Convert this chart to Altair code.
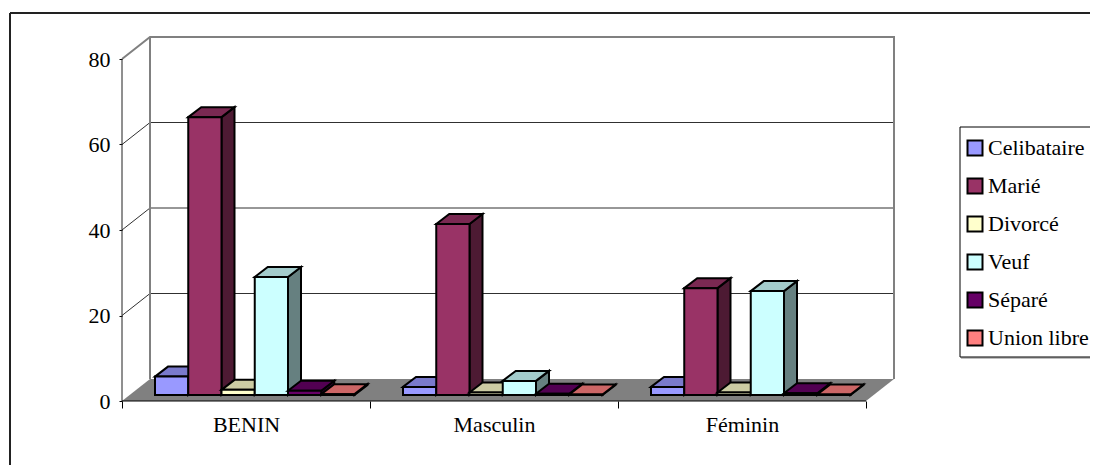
import altair as alt
import pandas as pd

categories = ["BENIN", "Masculin", "Féminin"]
series = ["Celibataire", "Marié", "Divorcé", "Veuf", "Séparé", "Union libre"]
celibataire = [4.3, 1.9, 1.9]
marie = [65.0, 40.0, 25.0]
divorce = [1.2, 0.6, 0.6]
veuf = [27.6, 3.3, 24.3]
separe = [1.0, 0.3, 0.4]
union_libre = [0.2, 0.1, 0.1]
values = [celibataire, marie, divorce, veuf, separe, union_libre]

front_colors = ["#9999FF", "#993366", "#FFFFCC", "#CCFFFF", "#660066", "#FF8080"]
top_colors = ["#7A7ACC", "#7A2952", "#CCCCA3", "#A3CCCC", "#520052", "#CC6666"]
side_colors = ["#4D4D80", "#4D1A33", "#808066", "#668080", "#330033", "#804040"]
y_ticks = [0, 20, 40, 60, 80]

# chart geometry, expressed through the scales
PX_PER_GROUP = 248.0
PX_PER_UNIT = 4.275
W, H = 773, 364
LEFT, TOP = 122, 37
WALL_DX = 28 / PX_PER_GROUP
WALL_DY = 22 / PX_PER_UNIT
BAR_W = 33.25 / PX_PER_GROUP
BAR_START = 33 / PX_PER_GROUP
BAR_DX = 13 / PX_PER_GROUP
BAR_DY = 10 / PX_PER_UNIT
BASE = 6 / PX_PER_UNIT

x_scale = alt.Scale(domain=[0, W / PX_PER_GROUP], nice=False, zero=False)
y_scale = alt.Scale(domain=[0, H / PX_PER_UNIT], nice=False, zero=False)
color_scale = alt.Scale(domain=series, range=front_colors)

X = lambda **k: alt.X("x:Q", scale=x_scale, title=None, **k)
Y = lambda **k: alt.Y("y:Q", scale=y_scale, title=None, **k)

n_groups = len(categories)
x_ticks = [i / 2 for i in range(2 * n_groups + 1)]
label_expr = "datum.value==0.5?'%s':datum.value==1.5?'%s':datum.value==2.5?'%s':''" % tuple(categories)
x_axis = alt.Axis(
    values=x_ticks, labelExpr=label_expr, grid=False, domain=False, tickSize=7,
    tickColor="black", tickOpacity=alt.expr("datum.value % 1 ? 0 : 1"),
    labelFont="Liberation Serif", labelFontSize=22, labelColor="black", labelPadding=6,
    labelOverlap=False, labelFlush=False, labelAngle=0, labelBaseline="top",
)
y_axis = alt.Axis(
    values=y_ticks, grid=False, domain=False, tickSize=3, tickColor="black",
    labelFont="Liberation Serif", labelFontSize=22, labelColor="black", labelPadding=9,
)

layers = []

# floor
floor = pd.DataFrame({
    "x": [0, WALL_DX, n_groups, n_groups + WALL_DX],
    "y": [0, WALL_DY, WALL_DY, WALL_DY],
    "y2": [0, 0, 0, WALL_DY],
})
layers.append(alt.Chart(floor).mark_area(color="#808080", clip=False).encode(
    x=X(axis=x_axis), y=Y(axis=y_axis), y2="y2:Q"))

# back wall grid
grid = pd.DataFrame({
    "x": [WALL_DX] * 3, "x2": [n_groups + WALL_DX] * 3,
    "y": [v + WALL_DY for v in y_ticks[1:4]],
})
layers.append(alt.Chart(grid).mark_rule(color="#303030", strokeWidth=1).encode(
    x=X(), x2="x2:Q", y=Y()))
slants = pd.DataFrame([
    {"v": v, "x": dx, "y": v + dy}
    for v in y_ticks[1:4] for dx, dy in ((0, 0), (WALL_DX, WALL_DY))
])
layers.append(alt.Chart(slants).mark_line(color="#303030", strokeWidth=1).encode(
    x=X(), y=Y(), detail="v:N"))

# wall outline
top_edge = pd.DataFrame({
    "x": [0, WALL_DX, n_groups + WALL_DX, n_groups + WALL_DX],
    "y": [y_ticks[-1], y_ticks[-1] + WALL_DY, y_ticks[-1] + WALL_DY, WALL_DY],
    "o": [0, 1, 2, 3],
})
layers.append(alt.Chart(top_edge).mark_line(color="#808080", strokeWidth=2).encode(
    x=X(), y=Y(), order="o:Q"))
left_wall = pd.DataFrame({"x": [WALL_DX, WALL_DX], "y": [WALL_DY, y_ticks[-1] + WALL_DY], "o": [0, 1]})
layers.append(alt.Chart(left_wall).mark_line(color="#808080", strokeWidth=2).encode(
    x=X(), y=Y(), order="o:Q"))

# front axis lines
y_line = pd.DataFrame({"x": [0, 0], "y": [0, y_ticks[-1]], "o": [0, 1]})
layers.append(alt.Chart(y_line).mark_line(color="#202020", strokeWidth=1).encode(
    x=X(), y=Y(), order="o:Q"))
x_line = pd.DataFrame({"x": [0, n_groups], "y": [0, 0], "o": [0, 1]})
layers.append(alt.Chart(x_line).mark_line(color="black", strokeWidth=1).encode(
    x=X(), y=Y(), order="o:Q"))

# legend box: drawn separately so that its margins can be set apart from the legend's own padding
one = pd.DataFrame({"a": [0]})
layers.append(alt.Chart(one).mark_rule(color="#808080", strokeWidth=1).encode(
    x=alt.value(961 - LEFT), x2=alt.value(1098 - LEFT), y=alt.value(358 - TOP)))
layers.append(alt.Chart(one).mark_rect(fill="white", stroke="black", strokeWidth=1).encode(
    x=alt.value(960 - LEFT), x2=alt.value(1110 - LEFT), y=alt.value(127 - TOP), y2=alt.value(357 - TOP)))

# bars, painted left to right so that each one hides what it should
for s, name in enumerate(series):
    side_rows, top_rows, front_rows = [], [], []
    for g in range(n_groups):
        v = values[s][g] + BASE
        x0 = g + BAR_START + s * BAR_W
        x1 = x0 + BAR_W
        side_rows += [
            {"g": g, "x": x1, "y": v, "y2": BASE},
            {"g": g, "x": x1 + BAR_DX, "y": v + BAR_DY, "y2": BASE + BAR_DY},
        ]
        top_rows += [
            {"g": g, "x": x0, "y": v, "y2": v},
            {"g": g, "x": x0 + BAR_DX, "y": v + BAR_DY, "y2": v},
            {"g": g, "x": x1, "y": v + BAR_DY, "y2": v},
            {"g": g, "x": x1 + BAR_DX, "y": v + BAR_DY, "y2": v + BAR_DY},
        ]
        front_rows.append({"x": x0, "x2": x1, "y": v, "y2": BASE, "serie": name})
    layers.append(alt.Chart(pd.DataFrame(side_rows)).mark_area(
        fill=side_colors[s], stroke="black", strokeWidth=2).encode(
        x=X(), y=Y(), y2="y2:Q", detail="g:N"))
    layers.append(alt.Chart(pd.DataFrame(top_rows)).mark_area(
        fill=top_colors[s], stroke="black", strokeWidth=2).encode(
        x=X(), y=Y(), y2="y2:Q", detail="g:N"))
    layers.append(alt.Chart(pd.DataFrame(front_rows)).mark_rect(
        stroke="black", strokeWidth=2).encode(
        x=X(), x2="x2:Q", y=Y(), y2="y2:Q",
        fill=alt.Fill("serie:N", scale=color_scale, legend=alt.Legend(
            title=None, orient="none", legendX=964 - LEFT, legendY=137 - TOP,
            symbolType="square", symbolSize=225, symbolStrokeColor="black",
            symbolStrokeWidth=2, labelFont="Liberation Serif", labelFontSize=22,
            labelColor="black", labelOffset=2, labelLimit=200, rowPadding=14,
            padding=0, labelBaseline="middle",
        ))))

# page frame
frame_top = alt.Chart(one).mark_rule(color="#222222", strokeWidth=2).encode(
    x=alt.value(10 - LEFT), x2=alt.value(1098 - LEFT), y=alt.value(13 - TOP))
frame_left = alt.Chart(one).mark_rule(color="#222222", strokeWidth=2).encode(
    x=alt.value(10 - LEFT), y=alt.value(13 - TOP), y2=alt.value(465 - TOP))
layers += [frame_top, frame_left]

chart = alt.layer(*layers).resolve_scale(fill="shared").properties(
    width=W, height=H,
    autosize=alt.AutoSizeParams(type="none"),
    padding={"left": LEFT - 8, "top": TOP - 8, "right": 1090 - LEFT - W, "bottom": 465 - TOP - H},
    background="white",
).configure_view(stroke=None)

chart.save("out.html", embed_options={"renderer": "svg", "actions": False})
